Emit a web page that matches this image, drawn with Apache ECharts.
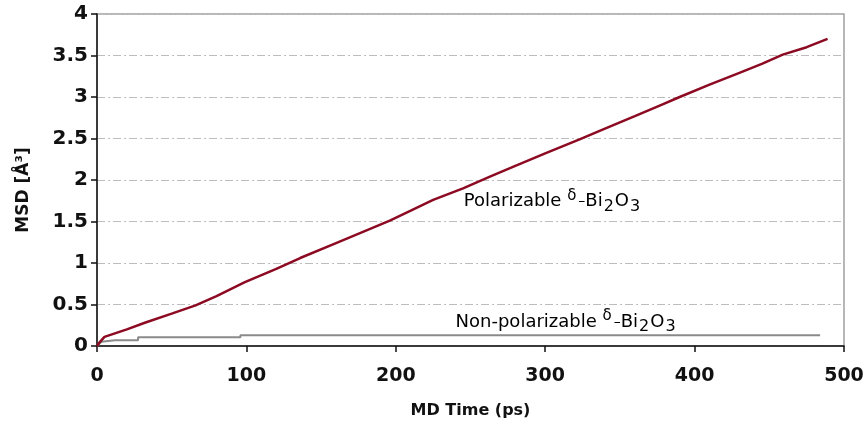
<!DOCTYPE html>
<html>
<head>
<meta charset="utf-8">
<script src="https://cdn.jsdelivr.net/npm/echarts@6/dist/echarts.min.js"></script>
<style>
  html, body { margin: 0; padding: 0; background: #fff; }
  #chart { width: 868px; height: 427px; }
</style>
</head>
<body>
<div id="chart"></div>
<script>
// polarizable run (ps, MSD)
var polTime = [0, 2, 5, 10, 20, 32, 50, 66, 80, 99, 120, 136, 160, 180, 196, 210, 225, 245, 263, 280, 300, 323, 340, 360, 377, 390, 410, 430, 445, 459, 475, 489];
var polMsd = [0, 0.05, 0.11, 0.14, 0.2, 0.28, 0.39, 0.49, 0.6, 0.77, 0.93, 1.06, 1.24, 1.39, 1.51, 1.63, 1.76, 1.9, 2.04, 2.17, 2.32, 2.49, 2.62, 2.77, 2.9, 3.0, 3.15, 3.29, 3.4, 3.51, 3.6, 3.7];

// non-polarizable run, stepwise
var nonTime = [0, 3, 12, 27.5, 27.5, 96, 96, 484];
var nonMsd = [0, 0.05, 0.068, 0.068, 0.105, 0.105, 0.13, 0.13];

var xTicks = [0, 100, 200, 300, 400, 500];
var yTicks = [0, 0.5, 1, 1.5, 2, 2.5, 3, 3.5, 4];

var font = "'DejaVu Sans', Verdana, sans-serif";

function pairs(xs, ys) {
  var out = [];
  for (var i = 0; i < xs.length; i++) out.push([xs[i], ys[i]]);
  return out;
}

var myChart = echarts.init(document.getElementById("chart"));

var labelRich = {
  base: { fontSize: 18, fontFamily: font, color: "#222", lineHeight: 26, verticalAlign: "middle" },
  sup: { fontSize: 15, fontFamily: font, color: "#222", verticalAlign: "top", lineHeight: 26, padding: [0, 2, 0, 0] },
  dash: { fontSize: 14, fontFamily: font, color: "#222", lineHeight: 26, verticalAlign: "middle" },
  sub: { fontSize: 16, fontFamily: font, color: "#222", verticalAlign: "bottom", lineHeight: 21, padding: [0, 1, 0, 1] }
};

var option = {
  backgroundColor: "#fff",
  animation: false,
  grid: {
    left: 97,
    right: 24,
    top: 14,
    bottom: 81,
    show: true,
    borderColor: "#a0a0a0",
    borderWidth: 1.5
  },
  xAxis: {
    type: "value",
    min: xTicks[0],
    max: xTicks[xTicks.length - 1],
    interval: 100,
    name: "MD Time (ps)",
    nameLocation: "middle",
    nameGap: 57,
    nameTextStyle: { fontFamily: font, fontWeight: "bold", fontSize: 16, color: "#111" },
    axisLine: { lineStyle: { color: "#111", width: 1.5 } },
    axisTick: { show: true, length: 6, lineStyle: { color: "#111", width: 1.5 } },
    axisLabel: { fontFamily: font, fontWeight: "bold", fontSize: 19, color: "#111", margin: 21 },
    splitLine: { show: false }
  },
  yAxis: {
    type: "value",
    min: yTicks[0],
    max: yTicks[yTicks.length - 1],
    interval: 0.5,
    name: "MSD [Å³]",
    nameLocation: "middle",
    nameGap: 65,
    nameTextStyle: { fontFamily: font, fontWeight: "bold", fontSize: 17, color: "#111", padding: [0, 20, 0, 0] },
    axisLine: { show: true, lineStyle: { color: "#111", width: 1.5 } },
    axisTick: { show: true, length: 6, lineStyle: { color: "#111", width: 1.5 } },
    axisLabel: { fontFamily: font, fontWeight: "bold", fontSize: 20, color: "#111", margin: 9 },
    splitLine: { show: true, lineStyle: { color: "#bdbdbd", width: 1, type: [8, 3, 2, 3] } }
  },
  series: [
    {
      name: "Polarizable",
      type: "line",
      data: pairs(polTime, polMsd),
      showSymbol: false,
      lineStyle: { color: "#8c0a22", width: 2.5 },
      z: 3
    },
    {
      name: "Non-polarizable",
      type: "line",
      data: pairs(nonTime, nonMsd),
      showSymbol: false,
      lineStyle: { color: "#8a8a8a", width: 2 },
      z: 2
    }
  ]
};

myChart.setOption(option);

// annotations anchored to data coordinates
var p1 = myChart.convertToPixel({ gridIndex: 0 }, [245.5, 1.74]);
var p2 = myChart.convertToPixel({ gridIndex: 0 }, [240, 0.29]);
var formula = "{sup|δ}{dash|–}{base|Bi}{sub|2}{base|O}{sub|3}";
myChart.setOption({
  graphic: [
    {
      type: "text",
      x: p1[0], y: p1[1],
      style: { text: "{base|Polarizable }" + formula, rich: labelRich, verticalAlign: "middle" }
    },
    {
      type: "text",
      x: p2[0], y: p2[1],
      style: { text: "{base|Non-polarizable }" + formula, rich: labelRich, verticalAlign: "middle" }
    }
  ]
});
</script>
</body>
</html>
